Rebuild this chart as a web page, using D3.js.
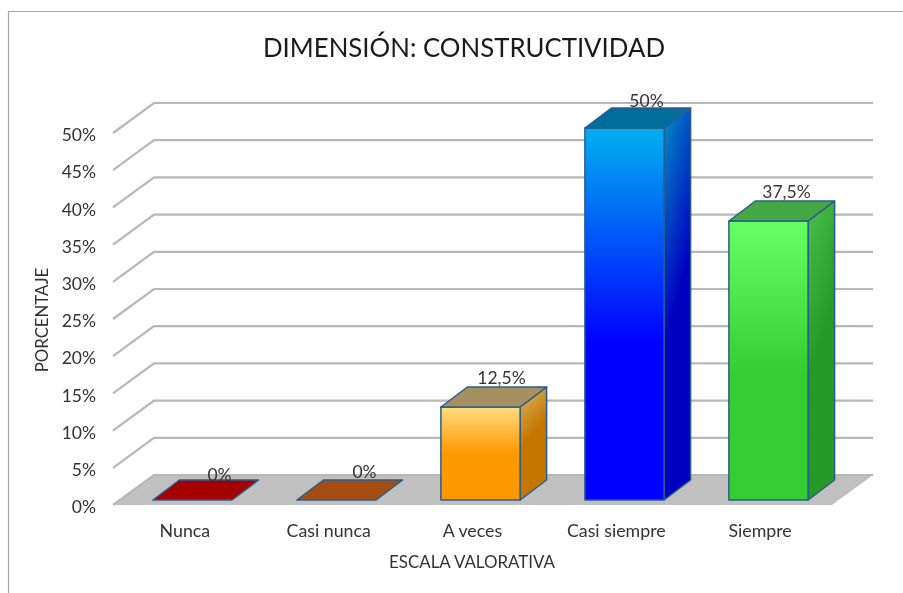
<!DOCTYPE html>
<html><head><meta charset="utf-8">
<script src="https://cdn.jsdelivr.net/npm/d3@7"></script>
<style>html,body{margin:0;padding:0;background:#fff}svg{display:block;filter:blur(0.4px)}text{font-family:Lato,"Open Sans",sans-serif;fill:#333}</style>
</head><body><svg id="c" width="903" height="593"></svg>
<script>
const categories = ["Nunca","Casi nunca","A veces","Casi siempre","Siempre"];
const values = [0,0,12.5,50,37.5];
const valueLabels = ["0%","0%","12,5%","50%","37,5%"];
const tickValues = [0,5,10,15,20,25,30,35,40,45,50];
const frontTopColors = ["#a50000","#a34d13","#ffdc80","#00b0f0","#66ff66"];
const frontBottomColors = ["#a50000","#a34d13","#ff9900","#0000ff","#33cc33"];
const frontStops = [1,1,.5,.58,.55];
const sideTopColors = ["#a50000","#a34d13","#d9b76a","#0090c4","#4cc04c"];
const sideBottomColors = ["#a50000","#a34d13","#c47700","#0000c0","#269926"];
const topColors = ["#a50000","#a34d13","#a69060","#006e9c","#43a843"];
const labelShift = [[27,1],[28,-2],[21,-3],[22,-1],[18,-3]];

const svg = d3.select("#c");
const defs = svg.append("defs");
const wallDX = 41, wallDY = -30, barDX = 26.5, barDY = -20;

const yFront = d3.scaleLinear().domain([0,50]).range([505,133]);
const yBar = d3.scaleLinear().domain([0,50]).range([500,128]);
const x = d3.scaleBand().domain(categories).range([120.5,840.5]).paddingInner(.45).paddingOuter(.225);
const xLabel = d3.scaleBand().domain(categories).range([113,832]);
const floorL = 113, floorR = 832;

// frame
svg.append("path").attr("d","M8.5,593V11.5H903").attr("fill","none").attr("stroke","#a6a6a6").attr("stroke-width",1.2);

// floor
const line = d3.line();
svg.append("path").attr("d",line([[floorL,yFront(0)],[floorL+wallDX,yFront(0)+wallDY],[floorR+wallDX,yFront(0)+wallDY],[floorR,yFront(0)]])+"Z").attr("fill","#c0c0c0");

// gridlines
svg.append("g").selectAll("path").data(tickValues).join("path")
  .attr("d",d=>line([[floorL,yFront(d)],[floorL+wallDX,yFront(d)+wallDY],[floorR+wallDX,yFront(d)+wallDY]]))
  .attr("fill","none").attr("stroke","#b8b8b8").attr("stroke-width",2.2);

// gradients
categories.forEach((c,i)=>{
  const f = defs.append("linearGradient").attr("id","f"+i).attr("x1",0).attr("y1",0).attr("x2",0).attr("y2",1);
  f.append("stop").attr("offset",0).attr("stop-color",frontTopColors[i]);
  f.append("stop").attr("offset",frontStops[i]).attr("stop-color",frontBottomColors[i]);
  const s = defs.append("linearGradient").attr("id","s"+i).attr("x1",0).attr("y1",0).attr("x2",.25).attr("y2",1);
  s.append("stop").attr("offset",0).attr("stop-color",sideTopColors[i]);
  s.append("stop").attr("offset",frontStops[i]).attr("stop-color",sideBottomColors[i]);
});

// bars
const bars = svg.append("g").selectAll("g").data(values).join("g")
  .attr("stroke","#2b5c8f").attr("stroke-width",1.5).attr("stroke-linejoin","round");
bars.each(function(v,i){
  const g = d3.select(this), l = x(categories[i]), r = l+x.bandwidth(), t = yBar(v), b = yBar(0);
  if(v>0){
    g.append("path").attr("d",line([[r,t],[r+barDX,t+barDY],[r+barDX,b+barDY],[r,b]])+"Z").attr("fill",`url(#s${i})`);
    g.append("rect").attr("x",l).attr("y",t).attr("width",r-l).attr("height",b-t).attr("fill",`url(#f${i})`);
  }
  g.append("path").attr("d",line([[l,t],[l+barDX,t+barDY],[r+barDX,t+barDY],[r,t]])+"Z").attr("fill",topColors[i]);
});

// data labels
svg.append("g").selectAll("text").data(values).join("text")
  .attr("x",(v,i)=>x(categories[i])+x.bandwidth()/2+labelShift[i][0])
  .attr("y",(v,i)=>yBar(v)+barDY+labelShift[i][1])
  .attr("text-anchor","middle").attr("font-size",17.5)
  .text((v,i)=>valueLabels[i]);

// y axis labels
const yAxis = svg.append("g").attr("transform","translate(104,2.5)")
  .call(d3.axisLeft(yFront).tickValues(tickValues).tickSize(0).tickPadding(8).tickFormat(d=>d+"%"));
yAxis.select(".domain").remove();
yAxis.selectAll("text").attr("font-size",17.5).attr("font-family",null).attr("dy","0.3em").attr("fill",null).style("fill","#333");

// x axis labels
const xAxis = svg.append("g").attr("transform","translate(0,525)")
  .call(d3.axisBottom(xLabel).tickSize(0).tickPadding(0));
xAxis.select(".domain").remove();
xAxis.selectAll("text").attr("font-size",17.8).attr("font-family",null).attr("dy","0.7em").attr("fill",null).style("fill","#333");

// titles
svg.append("text").attr("x",464).attr("y",57).attr("text-anchor","middle").attr("font-size",27.5)
  .attr("textLength",402).attr("lengthAdjust","spacingAndGlyphs").style("fill","#1a1a1a").text("DIMENSIÓN: CONSTRUCTIVIDAD");
svg.append("text").attr("x",472).attr("y",568).attr("text-anchor","middle").attr("font-size",16.9).text("ESCALA VALORATIVA");
svg.append("text").attr("transform","translate(48,320) rotate(-90)").attr("text-anchor","middle").attr("font-size",16.8).text("PORCENTAJE");
</script></body></html>
